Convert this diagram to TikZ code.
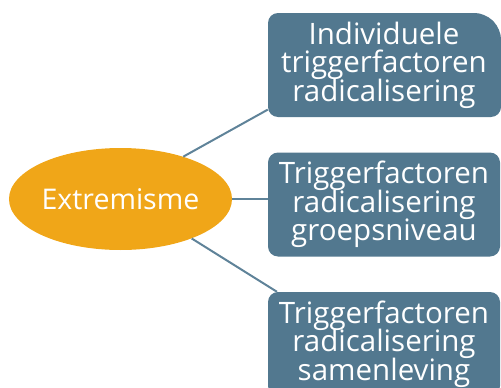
\documentclass[tikz,border=0pt]{standalone}
\usepackage{fontspec}
\setmainfont{Open Sans}
\usetikzlibrary{shapes.geometric}
\setlength{\lineskiplimit}{-20pt}
\definecolor{oranje}{HTML}{F0A618}
\definecolor{staal}{HTML}{52788F}
\definecolor{lijn}{HTML}{5F8399}
\tikzset{
  kern/.style={ellipse,fill=oranje,text=white,inner sep=0pt,minimum width=213pt,minimum height=102pt,font=\fontsize{28.5}{28.5}\selectfont},
  factor/.style={rectangle,rounded corners=10pt,fill=staal,text=white,inner sep=0pt,minimum width=232pt,minimum height=104pt,align=center,font=\fontsize{29.5}{28.5}\selectfont},
  tak/.style={draw=lijn,line width=2pt}
}
\begin{document}
\begin{tikzpicture}[x=1pt,y=-1pt]
\useasboundingbox (0,0) rectangle (501,388);
\clip (0,0) rectangle (501,388);
\fill[staal,rounded corners=10pt] (268,13) -- (485,13) -- (501,29) -- (501,117) -- (268,117) -- cycle;
\node (ext) at (120.5,199) [kern] {Extremisme};
\node (ind) at (384,65) [factor,fill=none] {Individuele\\triggerfactoren\\radicalisering};
\node (grp) at (384,204.5) [factor] {Triggerfactoren\\radicalisering\\groepsniveau};
\node (sam) at (384,344) [factor] {Triggerfactoren\\radicalisering\\samenleving};
\draw[tak] (ext.34) -- (ind.201);
\draw[tak] (ext.east) -- (ext.east -| grp.west);
\draw[tak] (ext.-29) -- (sam.154);
\end{tikzpicture}
\end{document}
